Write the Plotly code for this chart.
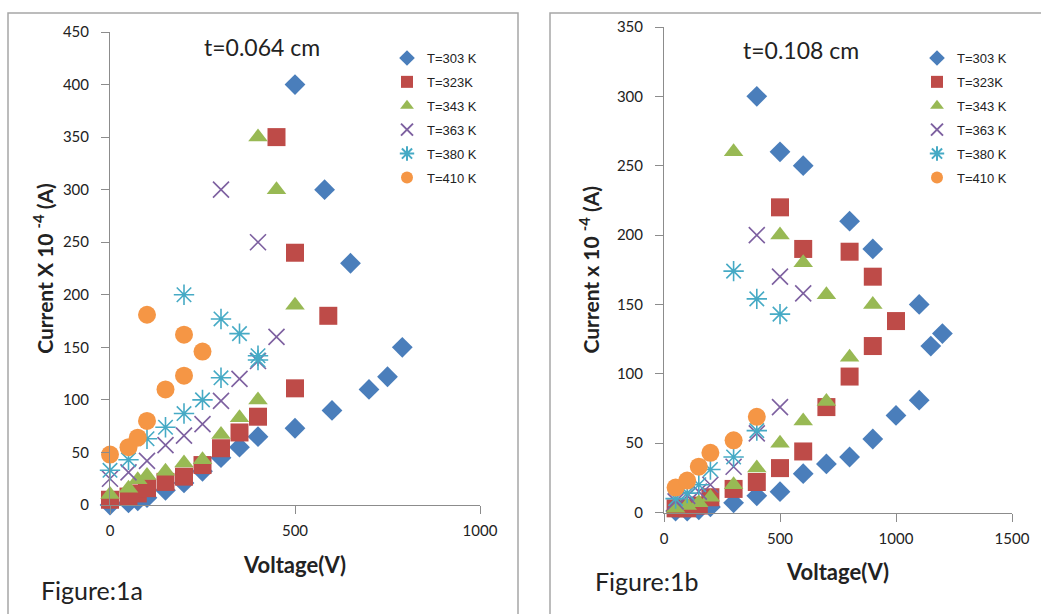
import plotly.graph_objects as go

W, H = 1041, 614

# ---------------- Data: Figure 1a (t = 0.064 cm) ----------------
a_v303 = [0, 50, 75, 100, 150, 200, 250, 300, 350, 400, 500, 500, 580, 600, 650, 700, 750, 790]
a_i303 = [0, 2, 4, 7, 14, 21, 32, 45, 55, 65, 73, 400, 300, 90, 230, 110, 122, 150]
a_v323 = [0, 50, 75, 100, 150, 200, 250, 300, 350, 400, 450, 500, 500, 590]
a_i323 = [5, 8, 11, 16, 22, 27, 38, 54, 69, 84, 350, 240, 111, 180]
a_v343 = [0, 50, 75, 100, 150, 200, 250, 300, 350, 400, 400, 450, 500]
a_i343 = [10, 16, 24, 28, 32, 40, 43, 67, 83, 100, 350, 300, 190]
a_v363 = [0, 50, 100, 150, 200, 250, 300, 350, 400, 450, 300, 400]
a_i363 = [25, 31, 42, 57, 66, 77, 99, 120, 137, 160, 300, 250]
a_v380 = [0, 50, 100, 150, 200, 250, 300, 400, 200, 300, 350, 400]
a_i380 = [33, 43, 63, 74, 87, 100, 121, 138, 200, 177, 163, 142]
a_v410 = [0, 50, 75, 100, 150, 200, 250, 200, 100]
a_i410 = [48, 55, 64, 80, 110, 123, 146, 162, 181]

# ---------------- Data: Figure 1b (t = 0.108 cm) ----------------
b_v303 = [50, 100, 150, 200, 300, 400, 500, 600, 700, 800, 900, 1000, 1100, 1150, 1200, 1100, 900, 800, 600, 500, 400]
b_i303 = [1, 1, 2, 4, 7, 12, 15, 28, 35, 40, 53, 70, 81, 120, 129, 150, 190, 210, 250, 260, 300]
b_v323 = [50, 100, 150, 200, 300, 400, 500, 600, 700, 800, 900, 1000, 900, 800, 600, 500]
b_i323 = [3, 3, 5, 11, 17, 22, 32, 44, 76, 98, 120, 138, 170, 188, 190, 220]
b_v343 = [50, 100, 150, 200, 300, 400, 500, 600, 700, 800, 900, 700, 600, 500, 300]
b_i343 = [3, 5, 7, 11, 20, 32, 50, 66, 80, 112, 150, 157, 180, 200, 260]
b_v363 = [50, 100, 150, 200, 300, 400, 500, 400, 500, 600]
b_i363 = [8, 12, 15, 20, 33, 57, 76, 200, 170, 158]
b_v380 = [50, 100, 150, 200, 300, 400, 300, 400, 500]
b_i380 = [10, 14, 20, 31, 40, 59, 174, 154, 143]
b_v410 = [50, 100, 150, 200, 300, 400]
b_i410 = [18, 23, 33, 43, 52, 69]

names = ["T=303 K", "T=323K", "T=343 K", "T=363 K", "T=380 K", "T=410 K"]
colors = ["#4A7EBB", "#BE4B48", "#98B954", "#7D60A0", "#46AAC5", "#F59645"]
symbols = ["diamond", "square", "triangle-up", "x-thin-open", "asterisk-open", "circle"]
sizes = [16, 18, 17, 16, 17, 18]

a_sets = [(a_v303, a_i303), (a_v323, a_i323), (a_v343, a_i343),
          (a_v363, a_i363), (a_v380, a_i380), (a_v410, a_i410)]
b_sets = [(b_v303, b_i303), (b_v323, b_i323), (b_v343, b_i343),
          (b_v363, b_i363), (b_v380, b_i380), (b_v410, b_i410)]

fig = go.Figure()

def add_series(sets, xa, ya, legend):
    for k, (vx, vy) in enumerate(sets):
        open_sym = symbols[k].endswith("open")
        fig.add_trace(go.Scatter(
            x=vx, y=vy, mode="markers", name=names[k],
            xaxis=xa, yaxis=ya, legend=legend,
            legendgroup=legend + str(k),
            cliponaxis=False,
            marker=dict(symbol=symbols[k], size=sizes[k], color=colors[k],
                        line=dict(color=colors[k], width=1.6 if open_sym else 0)),
        ))

add_series(a_sets, "x", "y", "legend")
add_series(b_sets, "x2", "y2", "legend2")

px = lambda p: p / W
py = lambda p: 1 - p / H

axis_common = dict(showline=True, linecolor="#8C8C8C", linewidth=1, ticks="outside",
                   tickcolor="#8C8C8C", showgrid=False, zeroline=False, automargin=False,
                   tickfont=dict(family="Lato", size=15, color="#222"), ticklen=8)
xax = dict(ticklabelstandoff=4, **axis_common)
yax = dict(ticklabelstandoff=9, **axis_common)
xtitle_font = dict(family="Lato", size=22, color="#222")
ytitle_font = dict(family="Lato", size=21, color="#222")

leg_common = dict(font=dict(family="Liberation Sans", size=13, color="#222"),
                  itemsizing="constant", tracegroupgap=4, bgcolor="rgba(0,0,0,0)",
                  xanchor="left", yanchor="top", itemwidth=30)

fig.update_layout(
    width=W, height=H, margin=dict(l=0, r=0, t=0, b=0),
    paper_bgcolor="white", plot_bgcolor="white", showlegend=True,
    xaxis=dict(domain=[px(110), px(480)], range=[0, 1000], tickvals=[0, 500, 1000],
               anchor="y", title=dict(text="<b>Voltage(V)</b>", font=xtitle_font, standoff=19),
               **xax),
    yaxis=dict(domain=[py(505), py(32)], range=[0, 450], tickvals=list(range(0, 451, 50)),
               anchor="x", title=dict(text="<b>Current X 10 <sup>-4</sup> (A)</b>", font=ytitle_font, standoff=3),
               **yax),
    xaxis2=dict(domain=[px(664), px(1012)], range=[0, 1500], tickvals=[0, 500, 1000, 1500],
                anchor="y2", title=dict(text="<b>Voltage(V)</b>", font=xtitle_font, standoff=19),
                **xax),
    yaxis2=dict(domain=[py(512.5), py(27)], range=[0, 350], tickvals=list(range(0, 351, 50)),
                anchor="x2", title=dict(text="<b>Current x 10 <sup>-4</sup> (A)</b>", font=ytitle_font, standoff=11),
                **yax),
    legend=dict(x=px(387), y=py(43), **leg_common),
    legend2=dict(x=px(917), y=py(43), **leg_common),
)

fig.add_shape(type="rect", xref="paper", yref="paper", x0=px(8), x1=px(518), y0=-0.2, y1=py(13),
              line=dict(color="#A6A6A6", width=1.5), fillcolor="rgba(0,0,0,0)", layer="below")
fig.add_shape(type="rect", xref="paper", yref="paper", x0=px(550), x1=1.2, y0=-0.2, y1=py(13),
              line=dict(color="#A6A6A6", width=1.5), fillcolor="rgba(0,0,0,0)", layer="below")

ann_font = dict(family="Lato", size=23, color="#222")
fig.add_annotation(text="t=0.064 cm", xref="paper", yref="paper", x=px(262), y=py(47),
                   xanchor="center", yanchor="middle", showarrow=False, font=ann_font)
fig.add_annotation(text="t=0.108 cm", xref="paper", yref="paper", x=px(801), y=py(50),
                   xanchor="center", yanchor="middle", showarrow=False, font=ann_font)
fig.add_annotation(text="Figure:1a", xref="paper", yref="paper", x=px(39), y=py(590),
                   xanchor="left", yanchor="middle", showarrow=False,
                   font=dict(family="Lato", size=25, color="#222"))
fig.add_annotation(text="Figure:1b", xref="paper", yref="paper", x=px(593), y=py(581),
                   xanchor="left", yanchor="middle", showarrow=False,
                   font=dict(family="Lato", size=25, color="#222"))

fig.write_html("out.html")
